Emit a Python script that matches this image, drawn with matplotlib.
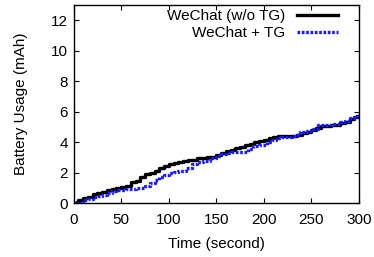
import matplotlib
matplotlib.use("Agg")
import matplotlib.pyplot as plt

plt.rcParams['font.family'] = ['Liberation Sans', 'DejaVu Sans']

t_wo = [0, 3, 5, 10, 15, 20, 25, 30, 35, 40, 45, 50, 55, 60, 65, 70, 75, 80, 85, 90, 95,
        100, 105, 110, 115, 120, 130, 140, 150, 155, 160, 165, 170, 175, 180, 185, 190,
        195, 200, 205, 210, 215, 220, 230, 235, 240, 245, 250, 255, 260, 270, 280, 285,
        290, 295, 300]
wo_tg = [0, 0.1, 0.2, 0.33, 0.42, 0.6, 0.65, 0.77, 0.85, 0.95, 1.0, 1.05, 1.15, 1.4, 1.45,
         1.75, 1.9, 2.0, 2.1, 2.3, 2.45, 2.55, 2.62, 2.7, 2.8, 2.85, 2.95, 3.05, 3.15, 3.3,
         3.45, 3.5, 3.6, 3.7, 3.8, 3.9, 4.0, 4.05, 4.15, 4.25, 4.35, 4.4, 4.4, 4.4, 4.45,
         4.6, 4.7, 4.8, 4.95, 5.05, 5.1, 5.25, 5.35, 5.55, 5.65, 5.7]

t_tg = [0, 5, 10, 15, 20, 25, 30, 35, 40, 45, 50, 55, 60, 65, 70, 75, 80, 85, 90, 95, 100,
        105, 110, 113, 118, 124, 130, 136, 143, 150, 155, 160, 165, 170, 178, 183, 189,
        195, 203, 208, 213, 218, 224, 230, 234, 238, 245, 250, 257, 265, 272, 280, 285,
        290, 295, 300]
w_tg = [0, 0.05, 0.2, 0.3, 0.4, 0.45, 0.55, 0.7, 0.8, 0.85, 0.9, 0.92, 0.95, 0.97, 1.0,
        1.15, 1.35, 1.5, 1.7, 1.85, 2.0, 2.05, 2.1, 2.1, 2.3, 2.55, 2.7, 2.8, 2.95, 3.1,
        3.2, 3.3, 3.35, 3.35, 3.35, 3.55, 3.75, 3.85, 4.0, 4.15, 4.3, 4.35, 4.35, 4.4,
        4.45, 4.65, 4.75, 4.9, 5.15, 5.15, 5.2, 5.3, 5.4, 5.6, 5.7, 5.7]

fs = 11
fig = plt.figure(figsize=(3.74, 2.57), dpi=100)
ax = fig.add_axes([0.197, 0.209, 0.763, 0.772])

ax.plot(t_wo, wo_tg, color='black', lw=2.4, drawstyle='steps-post', label='WeChat (w/o TG)')
ax.plot(t_tg, w_tg, color='#1a1aff', lw=2.4, linestyle=(0, (0.8, 0.5)), drawstyle='steps-post',
        label='WeChat + TG')

ax.set_xlim(0, 300)
ax.set_ylim(0, 13)
ax.set_xticks([0, 50, 100, 150, 200, 250, 300])
ax.set_yticks([0, 2, 4, 6, 8, 10, 12])
ax.tick_params(direction='in', top=True, right=True, length=3.5, width=0.8, labelsize=fs)
ax.tick_params(axis='x', pad=7)
ax.tick_params(axis='y', pad=4)
for s in ax.spines.values():
    s.set_linewidth(1.0)

ax.set_xlabel('Time (second)', fontsize=fs, labelpad=7)
ax.set_ylabel('Battery Usage (mAh)', fontsize=fs, labelpad=17)

ax.legend(loc='upper right', bbox_to_anchor=(0.933, 0.985), frameon=False, markerfirst=False,
          fontsize=fs, handlelength=2.7, handletextpad=0.8, labelspacing=0.2,
          borderaxespad=0.0, borderpad=0.1)

fig.savefig('out.png', dpi=100)
